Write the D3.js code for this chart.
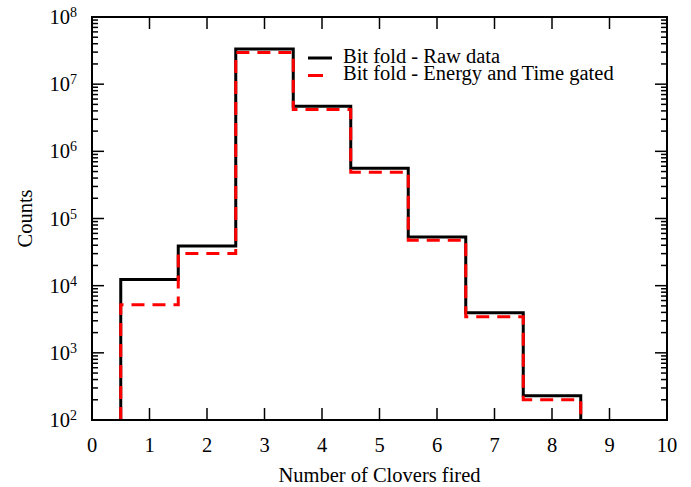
<!DOCTYPE html>
<html>
<head>
<meta charset="utf-8">
<script src="https://cdn.jsdelivr.net/npm/d3@7"></script>
<style>
  body { margin: 0; background: #fff; }
  svg { display: block; font-family: "Liberation Serif", "Times New Roman", serif; }
</style>
</head>
<body>
<svg id="chart" width="691" height="487"></svg>
<script>
// number of clovers fired (bin centres)
var clovers = [1, 2, 3, 4, 5, 6, 7, 8];
var raw_counts = [1.24e4, 3.9e4, 3.35e7, 4.7e6, 5.6e5, 5.3e4, 3.95e3, 230];
var gated_counts = [5.2e3, 3.0e4, 2.95e7, 4.2e6, 4.9e5, 4.75e4, 3.45e3, 200];
var x_ticks = [0, 1, 2, 3, 4, 5, 6, 7, 8, 9, 10];
var y_decades = [2, 3, 4, 5, 6, 7, 8];
var legend_names = ["Bit fold - Raw data", "Bit fold - Energy and Time gated"];

var svg = d3.select("#chart"),
    m_left = 92, m_right = 667, m_top = 17, m_bottom = 420;

var x = d3.scaleLinear().domain([0, 10]).range([m_left, m_right]);
var y = d3.scaleLog().domain([1e2, 1e8]).range([m_bottom, m_top]);

// minor ticks 2..9 in each decade
var minor = [];
y_decades.slice(0, -1).forEach(function(e) {
  for (var k = 2; k < 10; k++) minor.push(k * Math.pow(10, e));
});

// step path for a histogram with unit-width bins
function stepPath(vals) {
  var pts = [[clovers[0] - 0.5, 1e2]];
  vals.forEach(function(v, i) {
    pts.push([clovers[i] - 0.5, v]);
    pts.push([clovers[i] + 0.5, v]);
  });
  pts.push([clovers[clovers.length - 1] + 0.5, 1e2]);
  return d3.line().x(d => x(d[0])).y(d => y(d[1]))(pts);
}

svg.append("clipPath").attr("id", "clip")
  .append("rect").attr("x", m_left).attr("y", m_top)
  .attr("width", m_right - m_left).attr("height", m_bottom - m_top);

var g = svg.append("g").attr("clip-path", "url(#clip)");

g.append("path")
  .attr("d", stepPath(raw_counts))
  .attr("fill", "none").attr("stroke", "#000").attr("stroke-width", 3);

g.append("path")
  .attr("d", stepPath(gated_counts))
  .attr("fill", "none").attr("stroke", "#f00").attr("stroke-width", 3)
  .attr("stroke-dasharray", "13,8");

// axes: ticks pointing inward on all four sides
var axes = svg.append("g").attr("stroke", "#000").attr("stroke-width", 1.5);

axes.selectAll(".xt").data(x_ticks.slice(1, -1)).enter().append("line")
  .attr("x1", d => x(d)).attr("x2", d => x(d))
  .attr("y1", m_bottom).attr("y2", m_bottom - 12);
axes.selectAll(".xtt").data(x_ticks.slice(1, -1)).enter().append("line")
  .attr("x1", d => x(d)).attr("x2", d => x(d))
  .attr("y1", m_top).attr("y2", m_top + 12);

y_decades.forEach(function(e) {
  var yy = y(Math.pow(10, e));
  axes.append("line").attr("x1", m_left).attr("x2", m_left + 12).attr("y1", yy).attr("y2", yy);
  axes.append("line").attr("x1", m_right).attr("x2", m_right - 12).attr("y1", yy).attr("y2", yy);
});
minor.forEach(function(v) {
  var yy = y(v);
  axes.append("line").attr("x1", m_left).attr("x2", m_left + 6).attr("y1", yy).attr("y2", yy);
  axes.append("line").attr("x1", m_right).attr("x2", m_right - 6).attr("y1", yy).attr("y2", yy);
});

svg.append("rect")
  .attr("x", m_left).attr("y", m_top)
  .attr("width", m_right - m_left).attr("height", m_bottom - m_top)
  .attr("fill", "none").attr("stroke", "#000").attr("stroke-width", 2);

// tick labels
svg.selectAll(".xl").data(x_ticks).enter().append("text")
  .attr("x", d => x(d)).attr("y", 452)
  .attr("text-anchor", "middle").attr("font-size", 20.5)
  .text(d => d);

y_decades.forEach(function(e) {
  var t = svg.append("text")
    .attr("x", m_left - 15).attr("y", y(Math.pow(10, e)) + 7)
    .attr("text-anchor", "end").attr("font-size", 20.5);
  t.append("tspan").text("10");
  t.append("tspan").attr("dy", -7).attr("font-size", 14).text(e);
});

// axis titles
svg.append("text")
  .attr("x", (m_left + m_right) / 2).attr("y", 482)
  .attr("text-anchor", "middle").attr("font-size", 20.5)
  .text("Number of Clovers fired");

svg.append("text")
  .attr("transform", "translate(32," + ((m_top + m_bottom) / 2) + ") rotate(-90)")
  .attr("text-anchor", "middle").attr("font-size", 20.5)
  .text("Counts");

// legend
var leg = svg.append("g");
leg.append("line").attr("x1", 308).attr("x2", 332).attr("y1", 58).attr("y2", 58)
  .attr("stroke", "#000").attr("stroke-width", 3);
leg.append("line").attr("x1", 308).attr("x2", 332).attr("y1", 75.5).attr("y2", 75.5)
  .attr("stroke", "#f00").attr("stroke-width", 3).attr("stroke-dasharray", "15,20");
legend_names.forEach(function(n, i) {
  leg.append("text").attr("x", 343).attr("y", 62.5 + i * 17.5)
    .attr("font-size", 20.5).text(n);
});
</script>
</body>
</html>
